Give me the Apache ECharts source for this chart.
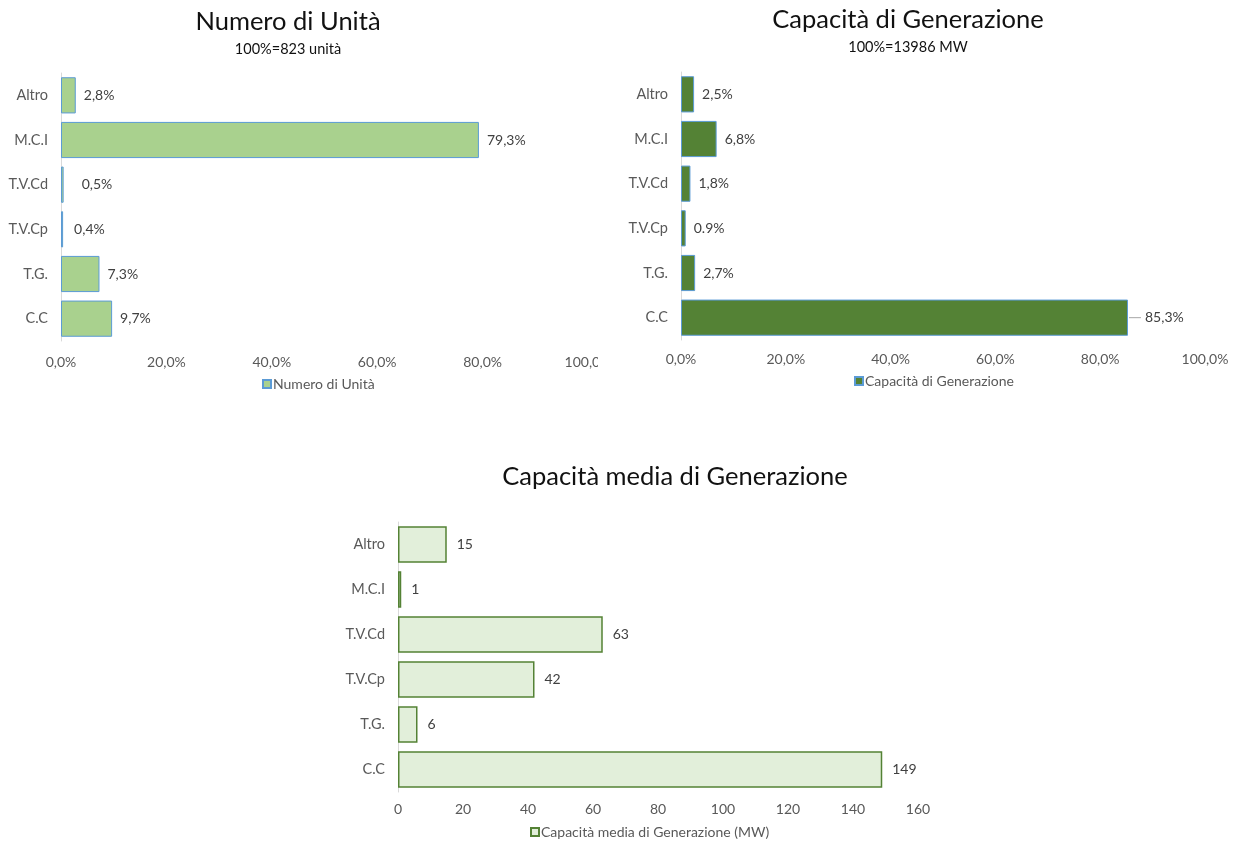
<!DOCTYPE html>
<html>
<head>
<meta charset="utf-8">
<script src="https://cdn.jsdelivr.net/npm/echarts@6/dist/echarts.min.js"></script>
<style>
  html, body { margin: 0; padding: 0; background: #fff; }
  body { width: 1233px; height: 843px; position: relative; overflow: hidden; }
  .panel { position: absolute; overflow: hidden; }
</style>
</head>
<body>
<div id="unita" class="panel" style="left:0;top:0;width:598px;height:400px;"></div>
<div id="capacita" class="panel" style="left:600px;top:0;width:633px;height:400px;"></div>
<div id="media" class="panel" style="left:0;top:440px;width:1233px;height:403px;"></div>
<script>
// Technology categories, listed top to bottom
const categories = ['Altro', 'M.C.I', 'T.V.Cd', 'T.V.Cp', 'T.G.', 'C.C'];

// Share of the number of units (%)
const unitShare = [2.8, 79.3, 0.5, 0.4, 7.3, 9.7];

// Share of generation capacity (%)
const capacityShare = [2.5, 6.8, 1.8, 0.9, 2.7, 85.3];
const capacityLabels = ['2,5%', '6,8%', '1,8%', '0.9%', '2,7%', '85,3%'];

// Average generation capacity per unit (MW)
const avgCapacity = [15, 1, 63, 42, 6, 149];

const FONT = 'Lato, "Liberation Sans", sans-serif';
const GREY = '#595959';
const SMALL = 14;

const pct = v => v.toFixed(1).replace('.', ',') + '%';

function baseOption(cfg) {
  return {
    animation: false,
    textStyle: { fontFamily: FONT },
    title: {
      text: cfg.title,
      subtext: cfg.subtitle || '',
      left: cfg.titleX,
      top: cfg.titleTop,
      textAlign: 'center',
      itemGap: cfg.itemGap || 8,
      textStyle: { fontFamily: FONT, fontSize: 25.5, fontWeight: 'normal', color: '#111' },
      subtextStyle: { fontFamily: FONT, fontSize: 14.5, color: '#111' }
    },
    legend: {
      data: [cfg.seriesName],
      left: cfg.legendX,
      top: cfg.legendTop,
      itemWidth: 8,
      itemHeight: 8,
      itemGap: 4,
      icon: 'rect',
      textStyle: { fontFamily: FONT, fontSize: SMALL, color: GREY, padding: [0, 0, 0, -3] }
    },
    grid: Object.assign({ outerBoundsMode: 'none', containLabel: false }, cfg.grid),
    xAxis: {
      type: 'value',
      min: 0,
      max: cfg.max,
      interval: cfg.interval,
      axisLine: { show: false },
      axisTick: { show: false },
      splitLine: { show: false },
      axisLabel: {
        fontFamily: FONT, fontSize: SMALL, color: GREY,
        margin: cfg.xMargin,
        formatter: cfg.xFormatter
      }
    },
    yAxis: {
      type: 'category',
      data: categories,
      inverse: true,
      axisLine: { show: true, lineStyle: { color: '#d9d9d9', width: 1 } },
      axisTick: { show: false },
      axisLabel: { fontFamily: FONT, fontSize: 14.5, color: GREY, margin: 13 }
    },
    series: [{
      name: cfg.seriesName,
      type: 'bar',
      data: cfg.data,
      barCategoryGap: '19%',
      itemStyle: cfg.itemStyle,
      label: {
        show: true,
        position: 'right',
        distance: cfg.labelDistance,
        fontFamily: FONT,
        fontSize: SMALL,
        color: '#404040',
        formatter: cfg.labelFormatter
      }
    }]
  };
}

// Number of units; labels of the two thinnest bars sit a little further out
const unitLabelGap = { 2: 18, 3: 11 };
const unitData = unitShare.map((v, i) =>
  unitLabelGap[i] ? { value: v, label: { distance: unitLabelGap[i] } } : v);

echarts.init(document.getElementById('unita')).setOption(baseOption({
  title: 'Numero di Unità',
  subtitle: '100%=823 unità',
  titleX: 283,
  titleTop: 4,
  itemGap: 7,
  seriesName: 'Numero di Unità',
  legendX: 257,
  legendTop: 372,
  grid: { left: 61, right: 10, top: 73, bottom: 59 },
  max: 100,
  interval: 20,
  xMargin: 14,
  xFormatter: pct,
  data: unitData,
  itemStyle: { color: '#a9d18e', borderColor: '#5b9bd5', borderWidth: 1 },
  labelDistance: 8,
  labelFormatter: p => pct(p.value)
}));

// Generation capacity; the largest bar gets a short leader before its label
const capData = capacityShare.map((v, i) => {
  const item = { value: v };
  if (i === capacityShare.length - 1) {
    item.label = {
      distance: 1,
      formatter: p => '{line|}{txt|' + capacityLabels[p.dataIndex] + '}',
      rich: {
        line: { width: 12, height: 1, backgroundColor: '#a6a6a6' },
        txt: { fontFamily: FONT, fontSize: SMALL, color: '#404040', padding: [0, 0, 0, 4] }
      }
    };
  }
  return item;
});
echarts.init(document.getElementById('capacita')).setOption(baseOption({
  title: 'Capacità di Generazione',
  subtitle: '100%=13986 MW',
  titleX: 303,
  titleTop: 2,
  itemGap: 7,
  seriesName: 'Capacità di Generazione',
  legendX: 249,
  legendTop: 369,
  grid: { left: 81, right: 28, top: 72, bottom: 60 },
  max: 100,
  interval: 20,
  xMargin: 12,
  xFormatter: pct,
  data: capData,
  itemStyle: { color: '#548235', borderColor: '#5b9bd5', borderWidth: 1 },
  labelDistance: 8,
  labelFormatter: p => capacityLabels[p.dataIndex]
}));

// Average generation capacity
echarts.init(document.getElementById('media')).setOption(baseOption({
  title: 'Capacità media di Generazione',
  titleX: 670,
  titleTop: 19,
  seriesName: 'Capacità media di Generazione (MW)',
  legendX: 525,
  legendTop: 380,
  grid: { left: 398, right: 315, top: 82, bottom: 51 },
  max: 160,
  interval: 20,
  xMargin: 10,
  xFormatter: v => String(v),
  data: avgCapacity,
  itemStyle: { color: '#e2efda', borderColor: '#548235', borderWidth: 1.5 },
  labelDistance: 10,
  labelFormatter: p => String(p.value)
}));
</script>
</body>
</html>
